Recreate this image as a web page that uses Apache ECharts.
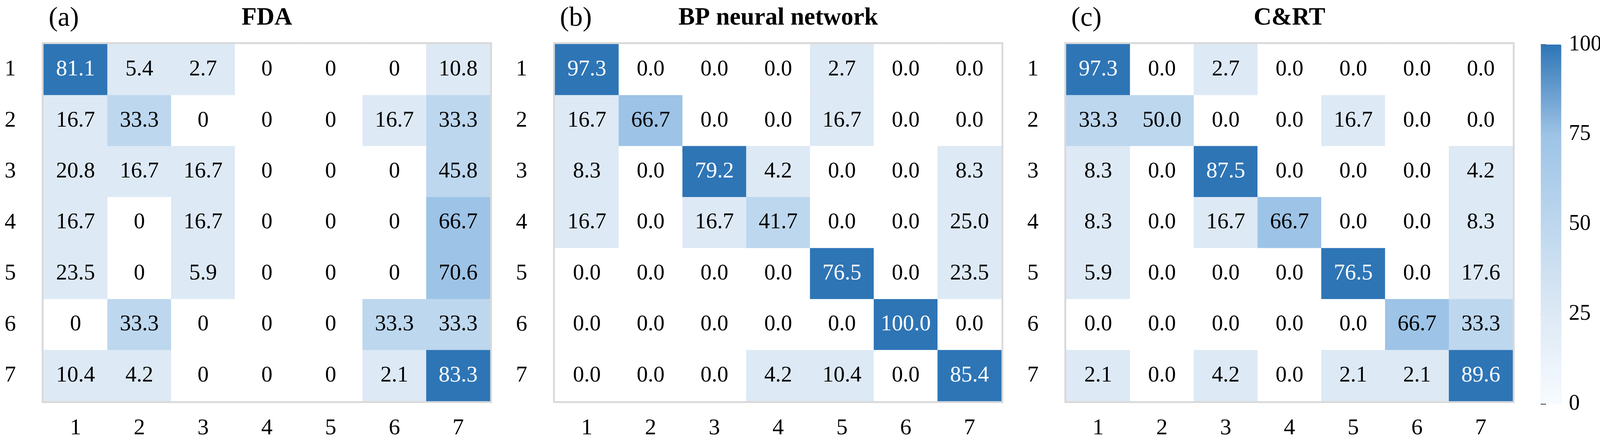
<!DOCTYPE html>
<html><head><meta charset="utf-8">
<script src="https://cdn.jsdelivr.net/npm/echarts@6/dist/echarts.min.js"></script>
<style>html,body{margin:0;padding:0;background:#fff;overflow:hidden}#c{width:100vw;height:100vh}</style>
</head><body><div id="c"></div>
<script>
// ---- data ----
const classes = ['1', '2', '3', '4', '5', '6', '7'];
const panelTitles = ['FDA', 'BP neural network', 'C&RT'];
const panelTags = ['(a)', '(b)', '(c)'];
// rows = true class 1..7, columns = predicted class 1..7 (percent)
const fdaValues = [
  [81.1, 5.4, 2.7, 0, 0, 0, 10.8],
  [16.7, 33.3, 0, 0, 0, 16.7, 33.3],
  [20.8, 16.7, 16.7, 0, 0, 0, 45.8],
  [16.7, 0, 16.7, 0, 0, 0, 66.7],
  [23.5, 0, 5.9, 0, 0, 0, 70.6],
  [0, 33.3, 0, 0, 0, 33.3, 33.3],
  [10.4, 4.2, 0, 0, 0, 2.1, 83.3]
];
const bpValues = [
  [97.3, 0, 0, 0, 2.7, 0, 0],
  [16.7, 66.7, 0, 0, 16.7, 0, 0],
  [8.3, 0, 79.2, 4.2, 0, 0, 8.3],
  [16.7, 0, 16.7, 41.7, 0, 0, 25.0],
  [0, 0, 0, 0, 76.5, 0, 23.5],
  [0, 0, 0, 0, 0, 100.0, 0],
  [0, 0, 0, 4.2, 10.4, 0, 85.4]
];
const crtValues = [
  [97.3, 0, 2.7, 0, 0, 0, 0],
  [33.3, 50.0, 0, 0, 16.7, 0, 0],
  [8.3, 0, 87.5, 0, 0, 0, 4.2],
  [8.3, 0, 16.7, 66.7, 0, 0, 8.3],
  [5.9, 0, 0, 0, 76.5, 0, 17.6],
  [0, 0, 0, 0, 0, 66.7, 33.3],
  [2.1, 0, 4.2, 0, 2.1, 2.1, 89.6]
];
const colorbarMin = 0, colorbarMax = 100, colorbarStep = 25;

// ---- layout / style (designed for 4215 x 1146, scaled to actual viewport) ----
const el = document.getElementById('c');
const sx = el.clientWidth / 4215, sy = el.clientHeight / 1146;
const X = v => v * sx, Y = v => v * sy, F = v => v * sy;
const FONT = 'Liberation Serif';
const panels = [fdaValues, bpValues, crtValues];
const gridLefts = [115, 1462, 2809];
const gridW = 1176, gridTop = 113, gridH = 913;
const cb = { left: 4059, top: 114, width: 54, height: 919 };

const grids = [], xAxes = [], yAxes = [], series = [], titles = [];
panels.forEach((vals, p) => {
  grids.push({
    left: X(gridLefts[p]), top: Y(gridTop), width: X(gridW), height: Y(gridH),
    show: true, borderColor: '#d9d9d9', borderWidth: Y(10), backgroundColor: 'transparent',
    containLabel: false, outerBoundsMode: 'none'
  });
  xAxes.push({
    type: 'category', data: classes, gridIndex: p,
    axisLine: { show: false }, axisTick: { show: false }, splitLine: { show: false }, splitArea: { show: false },
    axisLabel: { fontFamily: FONT, fontSize: F(58), color: '#000', margin: Y(41) }
  });
  yAxes.push({
    type: 'category', data: classes, gridIndex: p, inverse: true,
    axisLine: { show: false }, axisTick: { show: false }, splitLine: { show: false }, splitArea: { show: false },
    axisLabel: { fontFamily: FONT, fontSize: F(58), color: '#000', margin: X(73) }
  });
  const data = [];
  vals.forEach((row, r) => row.forEach((v, c) => {
    data.push({ value: [c, r, v], label: { color: v > 75 ? '#ffffff' : '#000000' } });
  }));
  series.push({
    type: 'heatmap', xAxisIndex: p, yAxisIndex: p, data: data,
    itemStyle: { borderWidth: 0 },
    emphasis: { disabled: true },
    label: {
      show: true, fontFamily: FONT, fontSize: F(57),
      formatter: (prm) => {
        const v = prm.value[2];
        return (p === 0 && v === 0) ? '0' : v.toFixed(1);
      }
    }
  });
  titles.push({
    text: panelTitles[p], left: X(gridLefts[p] + gridW / 2), top: Y(15), textAlign: 'center', padding: 0,
    textStyle: { fontFamily: FONT, fontSize: F(63), fontWeight: 'bold', color: '#000' }
  });
  titles.push({
    text: panelTags[p], left: X(gridLefts[p] + 13), top: Y(13), padding: 0,
    textStyle: { fontFamily: FONT, fontSize: F(70), fontWeight: 'normal', color: '#000' }
  });
});

// colorbar axis grid
grids.push({ left: X(cb.left), top: Y(cb.top), width: X(cb.width), height: Y(cb.height), show: false, containLabel: false, outerBoundsMode: 'none' });
xAxes.push({ type: 'value', gridIndex: 3, show: false, min: 0, max: 1 });
yAxes.push({
  type: 'value', gridIndex: 3, position: 'right', min: colorbarMin, max: colorbarMax, interval: colorbarStep,
  axisLine: { show: false }, splitLine: { show: false },
  axisTick: { show: true, length: X(14), lineStyle: { color: '#222', width: Y(2.5) } },
  axisLabel: { fontFamily: FONT, fontSize: F(56), color: '#000', margin: X(20) }
});
series.push({ type: 'line', xAxisIndex: 3, yAxisIndex: 3, data: [], silent: true });

const option = {
  backgroundColor: '#ffffff',
  animation: false,
  title: titles,
  grid: grids,
  xAxis: xAxes,
  yAxis: yAxes,
  visualMap: [
    {
      type: 'piecewise', show: false, seriesIndex: [0, 1, 2], dimension: 2,
      pieces: [
        { lte: 0, color: '#ffffff' },
        { gt: 0, lte: 25, color: '#dde9f5' },
        { gt: 25, lte: 50, color: '#bdd7ee' },
        { gt: 50, lte: 75, color: '#9dc3e6' },
        { gt: 75, color: '#2e75b6' }
      ]
    },
    {
      type: 'continuous', seriesIndex: [3], min: colorbarMin, max: colorbarMax,
      calculable: false, orient: 'vertical', left: X(cb.left), top: Y(cb.top), padding: 0,
      itemWidth: X(cb.width), itemHeight: Y(cb.height), showLabel: false, hoverLink: false,
      inRange: { color: ['#f7fbff', '#dde9f5', '#bdd7ee', '#9dc3e6', '#2e75b6'] }
    }
  ],
  series: series
};
const chart = echarts.init(el, null, { renderer: 'canvas' });
chart.setOption(option);
</script></body></html>
